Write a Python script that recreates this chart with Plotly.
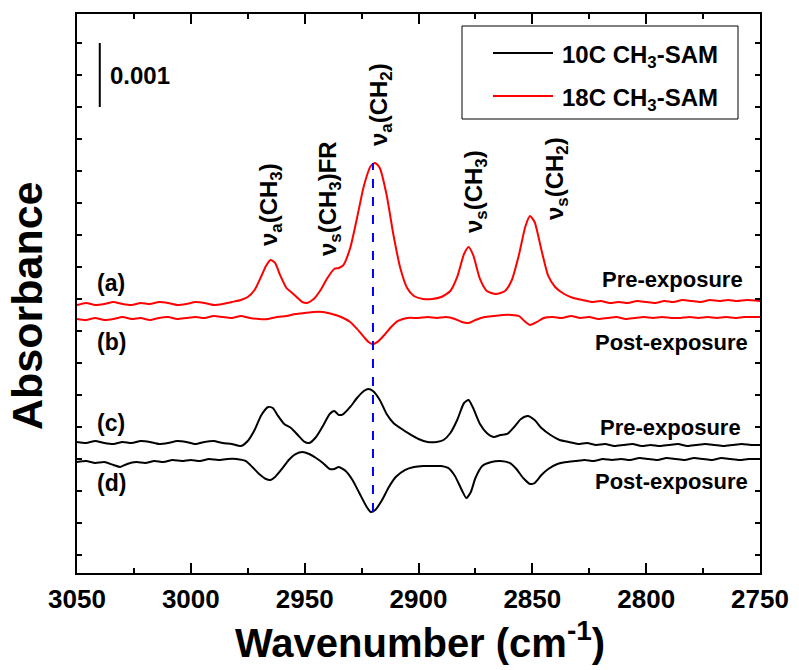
import plotly.graph_objects as go

# ---------------- data (absorbance in units of 1e-3, relative to each trace's offset) -------------
wn_a = [3050,3046,3042,3038,3034,3030,3026,3022,3018,3014,3010,3006,3002,2998,2994,2990,2986,2982,2978,2975,
        2972,2969,2967,2965,2963,2961,2958,2956,2954,2951,2949,2946,2943,2940,2937,2935,2933,2930,2927,2924,
        2921,2919,2917,2914,2911,2908,2905,2902,2898,2894,2890,2886,2883,2880,2878,2876,2873,2870,2866,2862,
        2859,2856,2853,2851,2849,2846,2843,2840,2836,2832,2828,2824,2820,2816,2812,2808,2804,2800,2796,2792,
        2788,2784,2780,2776,2772,2768,2764,2760,2756,2750]
abs_a = [-0.016,0.016,-0.016,0,0.031,0,-0.016,0.016,0,0.031,0.016,-0.016,0,0.031,0.016,-0.016,0,0.031,0.063,0.109,
         0.219,0.438,0.594,0.688,0.641,0.469,0.25,0.188,0.125,0.031,0.016,0.078,0.219,0.406,0.547,0.563,0.609,0.875,1.344,1.844,
         2.156,2.203,2.125,1.703,1.078,0.563,0.25,0.125,0.078,0.078,0.109,0.203,0.422,0.781,0.891,0.766,0.391,0.203,0.156,0.203,
         0.375,0.75,1.219,1.375,1.281,0.844,0.438,0.266,0.156,0.094,0.063,0.031,0.047,0.016,0.031,0.016,0.047,0.031,0.016,0.047,
         0.031,0.063,0.047,0.031,0.063,0.047,0.063,0.047,0.063,0.047]

wn_b = [3050,3046,3042,3038,3034,3030,3026,3022,3018,3014,3010,3006,3002,2998,2994,2990,2986,2982,2978,2974,
        2970,2966,2962,2958,2954,2950,2946,2942,2938,2934,2930,2927,2924,2922,2920,2918,2915,2912,2909,2905,
        2900,2896,2892,2888,2884,2881,2878,2875,2871,2867,2863,2859,2856,2853,2851,2848,2845,2841,2837,2833,
        2829,2825,2821,2817,2813,2809,2805,2801,2797,2793,2789,2785,2781,2777,2773,2769,2765,2761,2757,2750]
abs_b = [0,-0.016,0.016,-0.016,0,0.031,0,0.016,-0.016,0.016,0.031,0,0.016,0.031,0.016,0.047,0.031,0.016,0.047,0.016,
         0,0,0.031,0.047,0.078,0.094,0.109,0.109,0.078,0.031,-0.047,-0.156,-0.281,-0.359,-0.391,-0.359,-0.25,-0.125,-0.031,0.016,
         0.016,0.031,0.016,0.031,0,-0.047,-0.063,-0.016,0.031,0.047,0.063,0.063,0.047,-0.047,-0.094,-0.047,0.016,0.031,0.016,0.047,
         0.016,0.031,0,0.016,0.031,0,0.016,0.031,0.016,0.031,0.016,0.016,0.031,0.016,0.031,0.016,0.031,0.016,0.031,0.031]

wn_c = [3050,3046,3042,3038,3034,3030,3026,3022,3018,3014,3010,3006,3002,2998,2994,2990,2986,2982,2978,2975,
        2972,2969,2966,2964,2962,2959,2956,2953,2950,2948,2945,2942,2939,2937,2935,2933,2930,2927,2924,2922,
        2920,2917,2914,2911,2908,2904,2900,2896,2892,2889,2886,2883,2880,2878,2876,2873,2870,2867,2864,2861,
        2858,2855,2852,2849,2846,2842,2838,2834,2830,2826,2822,2818,2814,2810,2806,2802,2798,2794,2790,2786,
        2782,2778,2774,2770,2766,2762,2758,2754,2750]
abs_c = [0.016,0,0.031,0,-0.016,0.016,0,0.031,0.016,-0.016,0,0.031,0.016,-0.016,0.016,0.031,0,-0.016,-0.047,0.031,
         0.203,0.438,0.563,0.547,0.438,0.297,0.234,0.125,0.016,0,0.094,0.266,0.453,0.5,0.438,0.453,0.563,0.703,0.813,0.844,
         0.813,0.672,0.453,0.313,0.234,0.141,0.063,0.016,0.016,0.047,0.156,0.359,0.625,0.672,0.547,0.297,0.156,0.094,0.125,0.141,
         0.25,0.375,0.422,0.359,0.234,0.125,0.047,0.016,-0.016,0,-0.031,-0.016,-0.047,-0.031,-0.016,-0.047,-0.031,-0.047,-0.031,-0.016,
         -0.047,-0.031,-0.016,-0.031,-0.047,-0.031,-0.016,-0.031,-0.031]

wn_d = [3050,3046,3042,3038,3034,3031,3028,3024,3020,3016,3012,3008,3004,3000,2996,2992,2988,2984,2980,2976,
        2973,2970,2967,2965,2963,2960,2957,2954,2951,2948,2945,2942,2939,2937,2935,2932,2929,2926,2923,2921,
        2919,2916,2913,2910,2906,2902,2898,2894,2890,2887,2884,2881,2879,2877,2875,2872,2868,2864,2860,2857,
        2854,2851,2849,2846,2843,2839,2835,2831,2827,2823,2819,2815,2811,2807,2803,2799,2795,2791,2787,2783,
        2779,2775,2771,2767,2763,2759,2755,2750]
abs_d = [-0.016,0,-0.031,-0.016,-0.063,-0.094,-0.047,-0.016,-0.031,0,-0.016,0.016,0,0.016,0,0.031,0.016,0.031,0.031,0,
         -0.094,-0.203,-0.281,-0.297,-0.25,-0.125,0.016,0.109,0.141,0.109,0.047,-0.031,-0.125,-0.125,-0.094,-0.156,-0.297,-0.5,-0.703,-0.797,
         -0.766,-0.609,-0.406,-0.25,-0.141,-0.094,-0.078,-0.078,-0.078,-0.109,-0.234,-0.453,-0.578,-0.484,-0.266,-0.078,-0.016,0,-0.031,-0.125,
         -0.266,-0.359,-0.344,-0.219,-0.125,-0.047,-0.016,0,0.016,0,0.031,0.016,0.031,0.016,0.047,0.031,0.016,0.047,0.031,0.016,
         0.047,0.031,0.016,0.047,0.031,0.016,0.031,0.031]

# vertical offsets of the stacked spectra (1e-3 absorbance)
offset_a = 3.922
offset_b = 3.688
offset_c = 1.750
offset_d = 1.469

series_names = ["10C CH<sub>3</sub>-SAM", "18C CH<sub>3</sub>-SAM"]
series_colors = ["#000000", "#ff0000"]
trace_letters = ["(a)", "(b)", "(c)", "(d)"]
trace_states = ["Pre-exposure", "Post-exposure", "Pre-exposure", "Post-exposure"]
peak_labels = ["ν<sub>a</sub>(CH<sub>3</sub>)", "ν<sub>s</sub>(CH<sub>3</sub>)FR", "ν<sub>a</sub>(CH<sub>2</sub>)",
               "ν<sub>s</sub>(CH<sub>3</sub>)", "ν<sub>s</sub>(CH<sub>2</sub>)"]
x_ticks = [3050, 3000, 2950, 2900, 2850, 2800, 2750]
x_ticktext = [str(v) for v in x_ticks]
ref_wavenumber = 2920
scale_bar = 0.001
scale_bar_base = 0.007
scale_bar_x = 3040

# ---------------- figure -----------------
W, H = 799, 670
L, R, T, B = 77, 39, 14, 97
PW, PH = W - L - R, H - T - B
FONT = "Liberation Sans"

def px(x):
    return (x - L) / PW

def py(y):
    return (H - B - y) / PH

fig = go.Figure()

def add(wn, vals, off, color):
    fig.add_trace(go.Scatter(x=wn, y=[(v + off) * 1e-3 for v in vals], mode="lines",
                             line=dict(color=color, width=2, shape="spline", smoothing=0.6),
                             showlegend=False, hoverinfo="skip"))

add(wn_c, abs_c, offset_c, series_colors[0])
add(wn_d, abs_d, offset_d, series_colors[0])
add(wn_a, abs_a, offset_a, series_colors[1])
add(wn_b, abs_b, offset_b, series_colors[1])

top = (max(abs_a) + offset_a) * 1e-3
bottom = (min(abs_d) + offset_d) * 1e-3
fig.add_shape(type="line", xref="x", yref="y", x0=ref_wavenumber, x1=ref_wavenumber, y0=bottom, y1=top,
              line=dict(color="#0000ff", width=2, dash="dash"), layer="above")

# scale bar
fig.add_shape(type="line", xref="x", yref="y", x0=scale_bar_x, x1=scale_bar_x,
              y0=scale_bar_base, y1=scale_bar_base + scale_bar, line=dict(color="black", width=2))
fig.add_annotation(x=px(108), y=py(76), xref="paper", yref="paper", text="0.001", showarrow=False,
                   xanchor="left", yanchor="middle", font=dict(family=FONT, size=24, color="black", weight="bold"))

# manual legend
fig.add_shape(type="rect", xref="paper", yref="paper", x0=px(462), x1=px(738), y0=py(119), y1=py(26),
              line=dict(color="black", width=1), fillcolor="white", layer="above")
for i, (name, col) in enumerate(zip(series_names, series_colors)):
    yy = [53, 96][i]
    fig.add_shape(type="line", xref="paper", yref="paper", x0=px(493), x1=px(553), y0=py(yy), y1=py(yy),
                  line=dict(color=col, width=2), layer="above")
    fig.add_annotation(x=px(560), y=py(yy + 3), xref="paper", yref="paper", text=name, showarrow=False,
                       xanchor="left", yanchor="middle",
                       font=dict(family=FONT, size=24, color="black", weight="bold"))

# trace letters and states
letter_y = [283, 342, 423, 483]
state_y = [279, 342, 427, 481]
state_right = [745, 750, 743, 750]
for i in range(4):
    fig.add_annotation(x=px(111), y=py(letter_y[i]), xref="paper", yref="paper", text=trace_letters[i],
                       showarrow=False, xanchor="center", yanchor="middle",
                       font=dict(family=FONT, size=23, color="black", weight="bold"))
    fig.add_annotation(x=px(state_right[i]), y=py(state_y[i]), xref="paper", yref="paper", text=trace_states[i],
                       showarrow=False, xanchor="right", yanchor="middle",
                       font=dict(family=FONT, size=22, color="black", weight="bold"))

# peak labels (rotated)
peak_pos = [(270, 205), (330, 199), (381, 105), (475, 192), (556, 179)]
for lab, (xx, yy) in zip(peak_labels, peak_pos):
    fig.add_annotation(x=px(xx), y=py(yy), xref="paper", yref="paper", text=lab, textangle=-90,
                       showarrow=False, xanchor="center", yanchor="middle",
                       font=dict(family=FONT, size=24, color="black", weight="bold"))

# axis titles
fig.add_annotation(x=px(420), y=py(640), xref="paper", yref="paper", text="Wavenumber (cm<sup>-1</sup>)",
                   showarrow=False, xanchor="center", yanchor="middle",
                   font=dict(family=FONT, size=40, color="black", weight="bold"))
fig.add_annotation(x=px(27), y=py(306), xref="paper", yref="paper", text="Absorbance", textangle=-90,
                   showarrow=False, xanchor="center", yanchor="middle",
                   font=dict(family=FONT, size=43, color="black", weight="bold"))

ymin = (555 - 573) / 64 * 1e-3
ymax = (555 - 14) / 64 * 1e-3

fig.update_xaxes(range=[3050, 2750], showline=True, linewidth=2, linecolor="black", mirror="ticks",
                 ticks="inside", ticklen=10, tickwidth=2, tickcolor="black",
                 tickvals=x_ticks, ticktext=x_ticktext, ticklabelstandoff=2,
                 tickfont=dict(family=FONT, size=26, color="black", weight="bold"),
                 minor=dict(dtick=25, tick0=3050, ticks="inside", ticklen=5, tickwidth=2, tickcolor="black"),
                 showgrid=False, zeroline=False)
fig.update_yaxes(range=[ymin, ymax], showline=True, linewidth=2, linecolor="black", mirror="ticks",
                 ticks="inside", ticklen=5, tickwidth=1.5, tickcolor="black", dtick=0.0005, tick0=0,
                 showticklabels=False, showgrid=False, zeroline=False)

fig.update_layout(width=W, height=H, margin=dict(l=L, r=R, t=T, b=B, autoexpand=False),
                  paper_bgcolor="white", plot_bgcolor="white", showlegend=False,
                  font=dict(family=FONT, color="black"))

fig.write_html("out.html")
